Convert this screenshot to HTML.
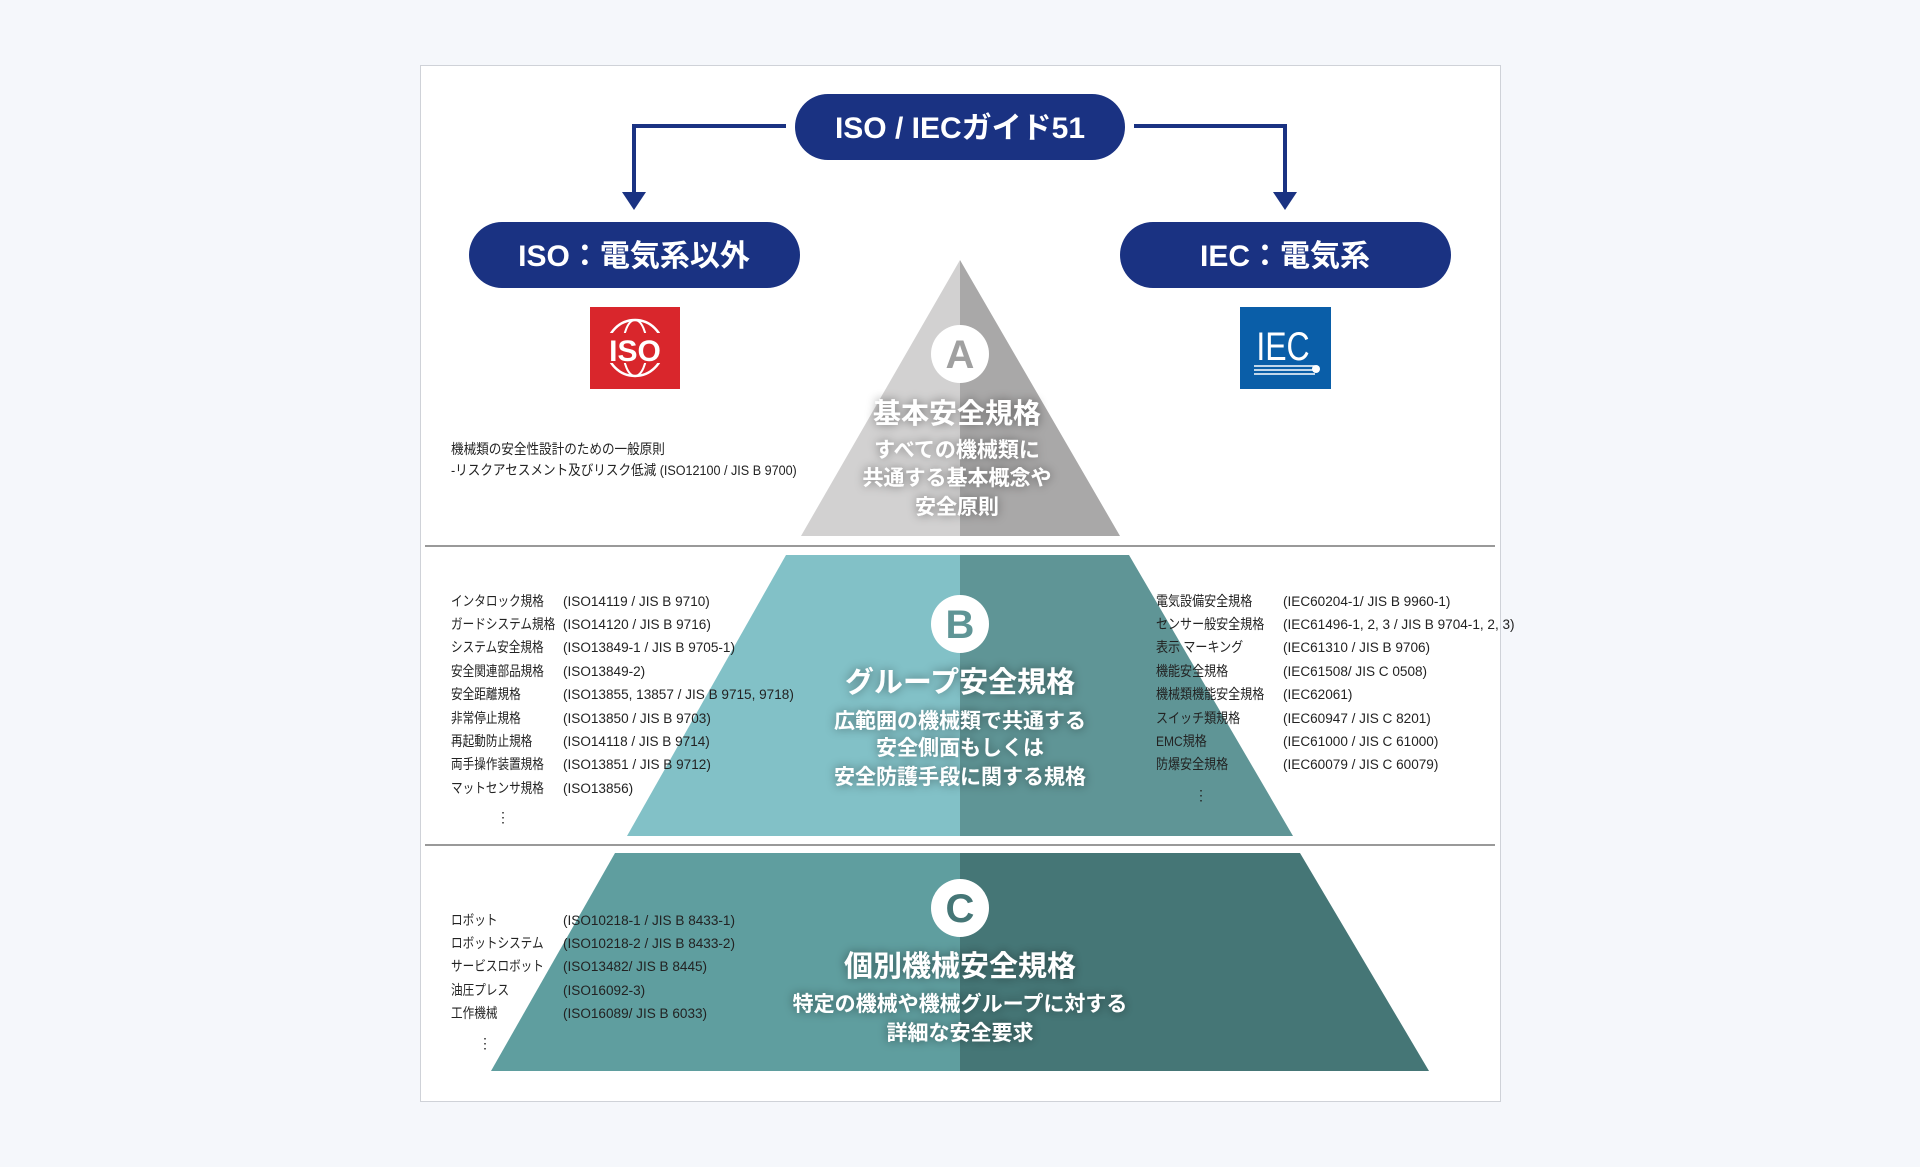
<!DOCTYPE html>
<html><head><meta charset="utf-8"><style>
html,body{margin:0;padding:0;background:#f5f7fb;}
svg{display:block;}
text{font-family:"Liberation Sans","Noto Sans CJK JP",sans-serif;}
.l{font-size:14px;fill:#222;}
.w{fill:#fff;font-weight:bold;text-anchor:middle;}
</style></head><body>
<svg width="1920" height="1167" viewBox="0 0 1920 1167" xmlns="http://www.w3.org/2000/svg">
<defs>
<filter id="sh" x="-20%" y="-50%" width="140%" height="200%"><feDropShadow dx="0" dy="0" stdDeviation="5" flood-color="#000" flood-opacity="0.45"/></filter>
</defs>
<rect x="0" y="0" width="1920" height="1167" fill="#f5f7fb"/>
<rect x="420.5" y="65.5" width="1080" height="1036" fill="#fff" stroke="#cfd2d8"/>
<g fill="none" stroke="#1a3282" stroke-width="4">
<polyline points="786,126 634,126 634,196"/>
<polyline points="1134,126 1285,126 1285,196"/>
</g>
<polygon points="622,192 646,192 634,210" fill="#1a3282"/>
<polygon points="1273,192 1297,192 1285,210" fill="#1a3282"/>
<rect x="795" y="94" width="330" height="66" rx="33" fill="#1a3282"/>
<text x="960" y="138" class="w" font-size="30">ISO / IECガイド51</text>
<rect x="469" y="222" width="331" height="66" rx="33" fill="#1a3282"/>
<text x="634" y="266" class="w" font-size="30">ISO：電気系以外</text>
<rect x="1120" y="222" width="331" height="66" rx="33" fill="#1a3282"/>
<text x="1285" y="266" class="w" font-size="30">IEC：電気系</text>
<rect x="590" y="307" width="90" height="82" fill="#d9262c"/>
<circle cx="635" cy="348" r="28" fill="none" stroke="#fff" stroke-width="2.5"/>
<ellipse cx="635" cy="348" rx="12" ry="28" fill="none" stroke="#fff" stroke-width="2"/>
<rect x="592" y="333" width="86" height="30" fill="#d9262c"/>
<text x="635" y="361" font-size="30" font-weight="bold" fill="#fff" text-anchor="middle" font-family="Liberation Serif,serif">ISO</text>
<rect x="1240" y="307" width="91" height="82" fill="#0a5ea8"/>
<text x="1283" y="360" font-size="40" fill="#fff" text-anchor="middle" transform="translate(1283,0) scale(0.8,1) translate(-1283,0)">IEC</text>
<g stroke="#fff" stroke-width="1.5"><line x1="1254" y1="366" x2="1315" y2="366"/><line x1="1254" y1="370" x2="1315" y2="370"/><line x1="1254" y1="374" x2="1315" y2="374"/></g>
<circle cx="1316" cy="369" r="4" fill="#fff"/>
<polygon points="960,260 801,536 960,536" fill="#d2d1d1"/>
<polygon points="960,260 1120,536 960,536" fill="#a9a8a8"/>
<line x1="425" y1="546" x2="1495" y2="546" stroke="#999" stroke-width="2"/>
<polygon points="786,555 960,555 960,836 627,836" fill="#82c1c7"/>
<polygon points="960,555 1129,555 1293,836 960,836" fill="#5f9596"/>
<line x1="425" y1="845" x2="1495" y2="845" stroke="#999" stroke-width="2"/>
<polygon points="615,853 960,853 960,1071 491,1071" fill="#5f9e9f"/>
<polygon points="960,853 1300,853 1429,1071 960,1071" fill="#457676"/>
<g fill="#fff"><circle cx="960" cy="354" r="29"/><circle cx="960" cy="624" r="29"/><circle cx="960" cy="908" r="29"/></g>
<text x="960" y="368" font-size="40" font-weight="bold" fill="#a0a0a0" text-anchor="middle">A</text>
<text x="960" y="638" font-size="40" font-weight="bold" fill="#5f9596" text-anchor="middle">B</text>
<text x="960" y="922" font-size="40" font-weight="bold" fill="#457676" text-anchor="middle">C</text>
<g filter="url(#sh)">
<text x="957" y="423" class="w" font-size="28">基本安全規格</text>
<text x="957" y="457" class="w" font-size="21">すべての機械類に</text>
<text x="957" y="485" class="w" font-size="21">共通する基本概念や</text>
<text x="957" y="514" class="w" font-size="21">安全原則</text>
<text x="960" y="692" class="w" font-size="29">グループ安全規格</text>
<text x="960" y="728" class="w" font-size="21">広範囲の機械類で共通する</text>
<text x="960" y="755" class="w" font-size="21">安全側面もしくは</text>
<text x="960" y="784" class="w" font-size="21">安全防護手段に関する規格</text>
<text x="960" y="976" class="w" font-size="29">個別機械安全規格</text>
<text x="960" y="1011" class="w" font-size="21">特定の機械や機械グループに対する</text>
<text x="960" y="1040" class="w" font-size="21">詳細な安全要求</text>
</g>
<g transform="translate(451,0) scale(0.9,1) translate(-451,0)">
<text x="451" y="454" class="l">機械類の安全性設計のための一般原則</text>
<text x="451" y="475" class="l">-リスクアセスメント及びリスク低減 (ISO12100 / JIS B 9700)</text>
</g>
<g transform="translate(451,0) scale(0.83,1) translate(-451,0)">
<text x="451" y="606" class="l">インタロック規格</text>
<text x="451" y="629" class="l">ガードシステム規格</text>
<text x="451" y="652" class="l">システム安全規格</text>
<text x="451" y="676" class="l">安全関連部品規格</text>
<text x="451" y="699" class="l">安全距離規格</text>
<text x="451" y="723" class="l">非常停止規格</text>
<text x="451" y="746" class="l">再起動防止規格</text>
<text x="451" y="769" class="l">両手操作装置規格</text>
<text x="451" y="793" class="l">マットセンサ規格</text>
<text x="451" y="925" class="l">ロボット</text>
<text x="451" y="948" class="l">ロボットシステム</text>
<text x="451" y="971" class="l">サービスロボット</text>
<text x="451" y="995" class="l">油圧プレス</text>
<text x="451" y="1018" class="l">工作機械</text>
</g>
<g transform="translate(563,0) scale(0.97,1) translate(-563,0)">
<text x="563" y="606" class="l">(ISO14119 / JIS B 9710)</text>
<text x="563" y="629" class="l">(ISO14120 / JIS B 9716)</text>
<text x="563" y="652" class="l">(ISO13849-1 / JIS B 9705-1)</text>
<text x="563" y="676" class="l">(ISO13849-2)</text>
<text x="563" y="699" class="l" font-size="12.5">(ISO13855, 13857 / JIS B 9715, 9718)</text>
<text x="563" y="723" class="l">(ISO13850 / JIS B 9703)</text>
<text x="563" y="746" class="l">(ISO14118 / JIS B 9714)</text>
<text x="563" y="769" class="l">(ISO13851 / JIS B 9712)</text>
<text x="563" y="793" class="l">(ISO13856)</text>
<text x="563" y="925" class="l">(ISO10218-1 / JIS B 8433-1)</text>
<text x="563" y="948" class="l">(ISO10218-2 / JIS B 8433-2)</text>
<text x="563" y="971" class="l">(ISO13482/ JIS B 8445)</text>
<text x="563" y="995" class="l">(ISO16092-3)</text>
<text x="563" y="1018" class="l">(ISO16089/ JIS B 6033)</text>
</g>
<text x="496" y="822" class="l">⋮</text>
<text x="478" y="1048" class="l">⋮</text>
<g transform="translate(1156,0) scale(0.86,1) translate(-1156,0)">
<text x="1156" y="606" class="l">電気設備安全規格</text>
<text x="1156" y="629" class="l">センサー般安全規格</text>
<text x="1156" y="652" class="l">表示 マーキング</text>
<text x="1156" y="676" class="l">機能安全規格</text>
<text x="1156" y="699" class="l">機械類機能安全規格</text>
<text x="1156" y="723" class="l">スイッチ類規格</text>
<text x="1156" y="746" class="l">EMC規格</text>
<text x="1156" y="769" class="l">防爆安全規格</text>
</g>
<g transform="translate(1283,0) scale(0.97,1) translate(-1283,0)">
<text x="1283" y="606" class="l">(IEC60204-1/ JIS B 9960-1)</text>
<text x="1283" y="629" class="l" font-size="11.5">(IEC61496-1, 2, 3 / JIS B 9704-1, 2, 3)</text>
<text x="1283" y="652" class="l">(IEC61310 / JIS B 9706)</text>
<text x="1283" y="676" class="l">(IEC61508/ JIS C 0508)</text>
<text x="1283" y="699" class="l">(IEC62061)</text>
<text x="1283" y="723" class="l">(IEC60947 / JIS C 8201)</text>
<text x="1283" y="746" class="l">(IEC61000 / JIS C 61000)</text>
<text x="1283" y="769" class="l">(IEC60079 / JIS C 60079)</text>
</g>
<text x="1194" y="800" class="l">⋮</text>
</svg>
</body></html>
